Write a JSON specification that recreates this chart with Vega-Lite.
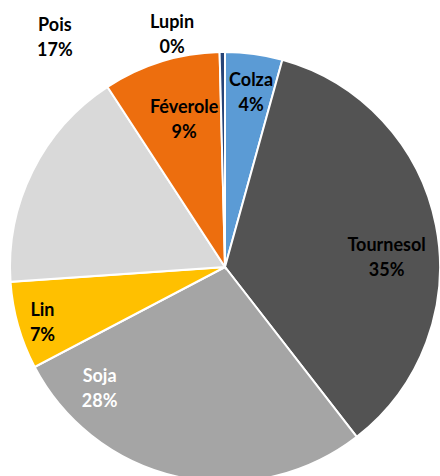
{
  "$schema": "https://vega.github.io/schema/vega-lite/v6.json",
  "width": 440,
  "height": 476,
  "autosize": {"type": "none"},
  "padding": 0,
  "background": "white",
  "view": {"stroke": null},
  "config": {
    "text": {"x": 225, "y": 267, "dy": -9, "font": "Lato", "fontWeight": "bold", "fontSize": 18, "lineBreak": "\n", "lineHeight": 25, "baseline": "middle", "align": "center", "color": "black"}
  },
  "data": {
    "values": [
      {"culture": "Colza", "part": 4.3, "ordre": 1, "etiquette": "Colza\n4%"},
      {"culture": "Tournesol", "part": 35.2, "ordre": 2, "etiquette": "Tournesol\n35%"},
      {"culture": "Soja", "part": 27.8, "ordre": 3, "etiquette": "Soja\n28%"},
      {"culture": "Lin", "part": 6.6, "ordre": 4, "etiquette": "Lin\n7%"},
      {"culture": "Pois", "part": 16.9, "ordre": 5, "etiquette": "Pois\n17%"},
      {"culture": "Féverole", "part": 8.8, "ordre": 6, "etiquette": "Féverole\n9%"},
      {"culture": "Lupin", "part": 0.4, "ordre": 7, "etiquette": "Lupin\n0%"}
    ]
  },
  "transform": [
    {"stack": "part", "groupby": [], "sort": [{"field": "ordre", "order": "ascending"}], "as": ["debut", "fin"]},
    {"calculate": "(datum.debut + datum.fin) / 2", "as": "milieu"}
  ],
  "resolve": {"scale": {"theta": "shared"}},
  "layer": [
    {
      "mark": {"type": "arc", "x": 225, "y": 267, "outerRadius": 215, "stroke": "white", "strokeWidth": 2},
      "encoding": {
        "theta": {"field": "debut", "type": "quantitative", "scale": {"domain": [0, 100]}},
        "theta2": {"field": "fin"},
        "color": {
          "field": "culture",
          "type": "nominal",
          "legend": null,
          "scale": {
            "domain": ["Colza", "Tournesol", "Soja", "Lin", "Pois", "Féverole", "Lupin"],
            "range": ["#5B9BD5", "#535353", "#A5A5A5", "#FFC000", "#D9D9D9", "#ED6E0E", "#264478"]
          }
        }
      }
    },
    {
      "transform": [{"filter": "datum.culture == 'Colza'"}],
      "mark": {"type": "text", "radius": 179, "thetaOffset": 0.011},
      "encoding": {"theta": {"field": "milieu", "type": "quantitative", "scale": {"domain": [0, 100]}}, "text": {"field": "etiquette"}}
    },
    {
      "transform": [{"filter": "datum.culture == 'Tournesol'"}],
      "mark": {"type": "text", "radius": 162, "thetaOffset": 0.121},
      "encoding": {"theta": {"field": "milieu", "type": "quantitative", "scale": {"domain": [0, 100]}}, "text": {"field": "etiquette"}}
    },
    {
      "transform": [{"filter": "datum.culture == 'Soja'"}],
      "mark": {"type": "text", "radius": 173, "thetaOffset": 0.597, "color": "white"},
      "encoding": {"theta": {"field": "milieu", "type": "quantitative", "scale": {"domain": [0, 100]}}, "text": {"field": "etiquette"}}
    },
    {
      "transform": [{"filter": "datum.culture == 'Lin'"}],
      "mark": {"type": "text", "radius": 190, "thetaOffset": -0.005},
      "encoding": {"theta": {"field": "milieu", "type": "quantitative", "scale": {"domain": [0, 100]}}, "text": {"field": "etiquette"}}
    },
    {
      "transform": [{"filter": "datum.culture == 'Pois'"}],
      "mark": {"type": "text", "radius": 288, "thetaOffset": 0.477},
      "encoding": {"theta": {"field": "milieu", "type": "quantitative", "scale": {"domain": [0, 100]}}, "text": {"field": "etiquette"}}
    },
    {
      "transform": [{"filter": "datum.culture == 'Féverole'"}],
      "mark": {"type": "text", "radius": 155, "thetaOffset": 0.035},
      "encoding": {"theta": {"field": "milieu", "type": "quantitative", "scale": {"domain": [0, 100]}}, "text": {"field": "etiquette"}}
    },
    {
      "transform": [{"filter": "datum.culture == 'Lupin'"}],
      "mark": {"type": "text", "radius": 241, "thetaOffset": -0.209},
      "encoding": {"theta": {"field": "milieu", "type": "quantitative", "scale": {"domain": [0, 100]}}, "text": {"field": "etiquette"}}
    }
  ]
}
